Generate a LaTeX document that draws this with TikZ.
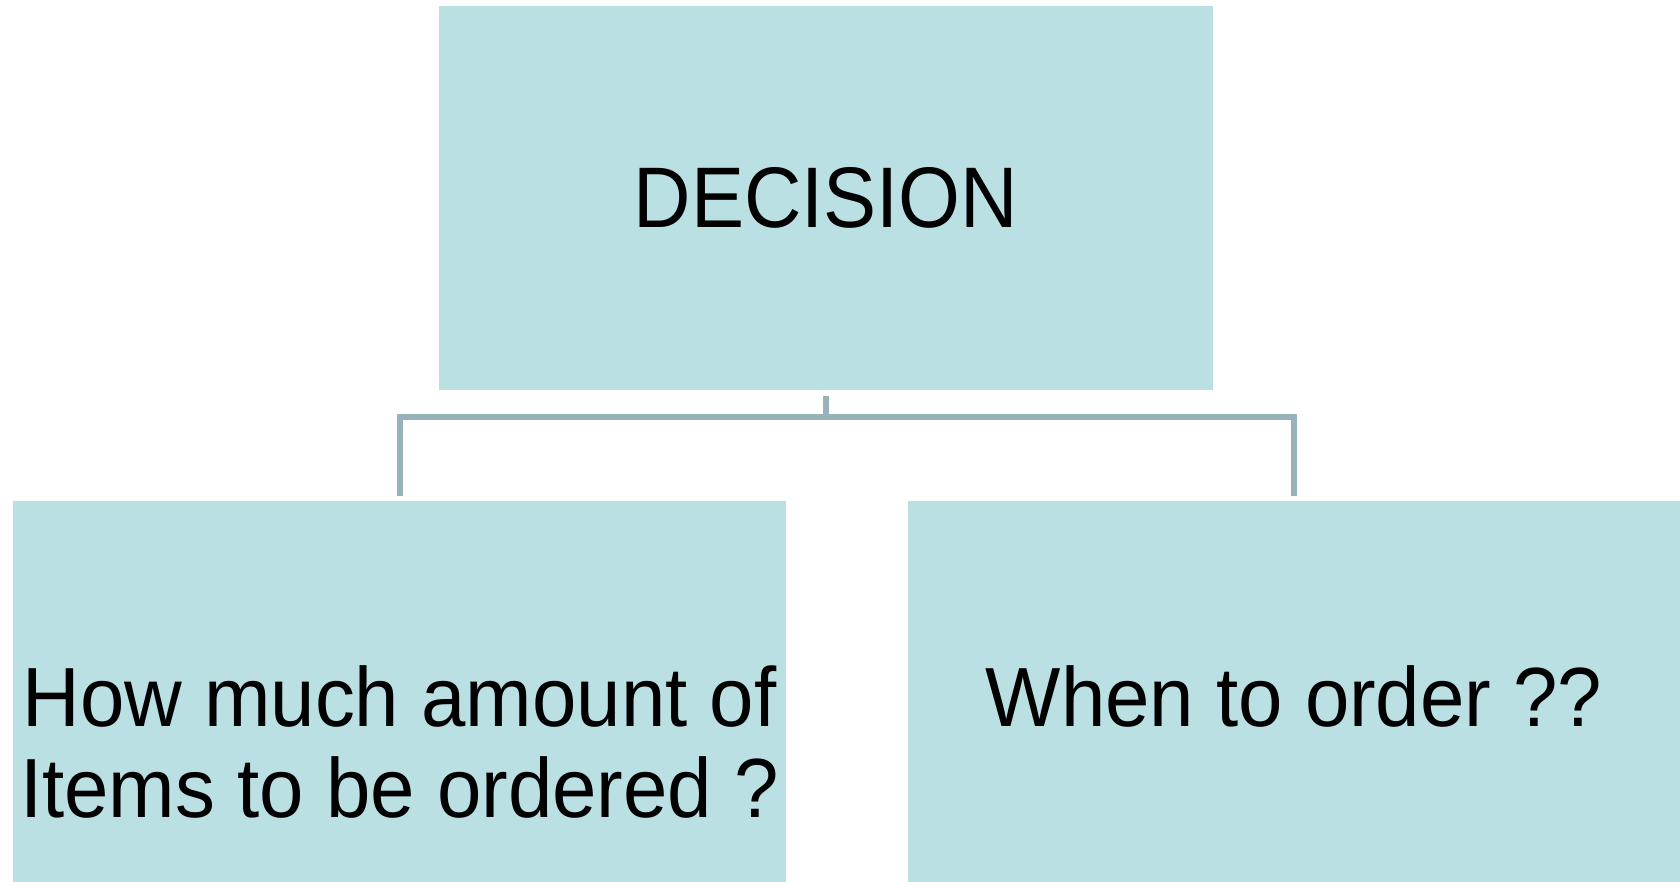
\documentclass[tikz,border=0pt]{standalone}
\usepackage{fontspec}
\setmainfont{Liberation Sans}
\newfontfamily\topfont[FakeStretch=0.925]{Liberation Sans}
\newfontfamily\leaffont[FakeStretch=0.95]{Liberation Sans}
\usetikzlibrary{positioning}
\definecolor{boxfill}{RGB}{187,224,227}
\definecolor{linkline}{RGB}{151,179,183}

\begin{document}
\begin{tikzpicture}[x=1pt,y=-1pt,
    box/.style={fill=boxfill,draw=none,inner sep=0pt},
    toptxt/.style={inner sep=0pt,align=center,font=\topfont\fontsize{86}{91}\selectfont},
    leaftxt/.style={inner sep=0pt,align=center,font=\leaffont\fontsize{84}{91}\selectfont},
    conn/.style={draw=linkline,line width=6pt}]
    \useasboundingbox (0,0) rectangle (1680,882);
    \node[box,minimum width=774pt,minimum height=384pt] (decision) at (826,198) {};
    \node[box,minimum width=773pt,minimum height=381pt] (howmuch) at (399.5,691.5) {};
    \node[box,minimum width=772pt,minimum height=381pt] (whento) at (1294,691.5) {};
    \node[toptxt,anchor=base] (decisiontxt) at (826,228) {DECISION};
    \node[leaftxt,anchor=base] (howmuchtxt) at (399.5,817) {How much amount of\\Items to be ordered ?};
    \node[leaftxt,anchor=base] (whentotxt) at (1294,726) {When to order ??};
    \coordinate (split) at (826,417); % joint of the connector
    \draw[conn] ([yshift=-6pt]decision.south) -- (split);
    \draw[conn] ([yshift=5pt]howmuch.north) |- (split) -| ([yshift=5pt]whento.north);
\end{tikzpicture}
\end{document}
